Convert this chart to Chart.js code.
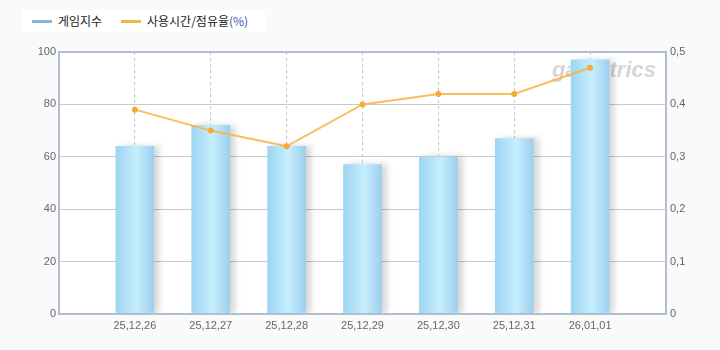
<!DOCTYPE html>
<html>
<head>
<meta charset="utf-8">
<script src="https://cdn.jsdelivr.net/npm/chart.js@4"></script>
<style>
  html, body { margin: 0; padding: 0; background: #fafafa; }
  #wrap { position: relative; width: 720px; height: 350px; }
  #legend {
    position: absolute; left: 22px; top: 10px; width: 243px; height: 22px;
    background: #ffffff; font: 12px "Noto Sans CJK KR", sans-serif; color: #222;
  }
  #legend span { position: absolute; top: 1px; line-height: 20px; }
  #legend i { position: absolute; top: 10px; width: 20px; height: 3px; }
</style>
</head>
<body>
<div id="wrap">
  <canvas id="chart" width="720" height="350"></canvas>
  <div id="legend">
    <i style="left:10px;background:#7fb7df;"></i><span style="left:36px;">게임지수</span>
    <i style="left:99px;background:#f7b245;"></i><span style="left:125px;">사용시간/점유율<span style="position:static;color:#3355aa;">(%)</span></span>
  </div>
</div>
<script>
// values
const dates = ['25,12,26', '25,12,27', '25,12,28', '25,12,29', '25,12,30', '25,12,31', '26,01,01'];
const gameIndex = [64, 72, 64, 57, 60, 67, 97];
const shareRate = [0.39, 0.35, 0.32, 0.40, 0.42, 0.42, 0.47];
const leftTicks = ['0', '20', '40', '60', '80', '100'];
const rightTicks = ['0', '0,1', '0,2', '0,3', '0,4', '0,5'];

// blank slots at both ends so the dates sit one step in from the edges
const axisLabels = [''].concat(dates, ['']);
const barData = [null].concat(gameIndex, [null]);
const lineData = [null].concat(shareRate, [null]);

const BAR_W = 38;

const plotPlugin = {
  id: 'plotDeco',
  beforeDraw(chart) {
    const { ctx, chartArea: a } = chart;
    ctx.save();
    ctx.fillStyle = '#ffffff';
    ctx.fillRect(a.left, a.top, a.right - a.left, a.bottom - a.top);
    ctx.restore();
  },
  beforeDatasetsDraw(chart) {
    const { ctx, chartArea: a } = chart;
    ctx.save();
    ctx.font = 'bold italic 22px "Liberation Sans", sans-serif';
    ctx.fillStyle = '#d6d6d6';
    ctx.textAlign = 'right';
    ctx.textBaseline = 'alphabetic';
    ctx.fillText('gametrics', a.right - 10, a.top + 25);
    ctx.restore();
  },
  beforeDatasetDraw(chart, args) {
    if (args.index === 0) {
      const ctx = chart.ctx;
      ctx.save();
      ctx.shadowColor = 'rgba(0,0,0,0.16)';
      ctx.shadowOffsetX = 5;
      ctx.shadowOffsetY = 0;
      ctx.shadowBlur = 6;
    }
  },
  afterDatasetDraw(chart, args) {
    if (args.index === 0) chart.ctx.restore();
  },
  afterDraw(chart) {
    const { ctx, chartArea: a } = chart;
    ctx.save();
    ctx.strokeStyle = '#aebfd2';
    ctx.lineWidth = 2;
    ctx.strokeRect(a.left, a.top, a.right - a.left, a.bottom - a.top);
    ctx.restore();
  }
};

function barFill(context) {
  const chart = context.chart;
  const xs = chart.scales && chart.scales.x;
  if (!xs || context.dataIndex === undefined) return '#a8dcf5';
  const cx = xs.getPixelForValue(context.dataIndex);
  if (!isFinite(cx)) return '#a8dcf5';
  const g = chart.ctx.createLinearGradient(cx - BAR_W / 2, 0, cx + BAR_W / 2, 0);
  g.addColorStop(0, '#9dd5f2');
  g.addColorStop(0.55, '#c6eefd');
  g.addColorStop(1, '#9ccfee');
  return g;
}

const tickFont = { family: '"Liberation Sans", sans-serif', size: 11 };

new Chart(document.getElementById('chart'), {
  data: {
    labels: axisLabels,
    datasets: [
      {
        type: 'bar',
        label: '게임지수',
        data: barData,
        yAxisID: 'y',
        backgroundColor: barFill,
        barThickness: BAR_W,
        order: 2
      },
      {
        type: 'line',
        label: '사용시간/점유율(%)',
        data: lineData,
        yAxisID: 'y1',
        borderColor: 'rgba(249,177,64,0.85)',
        borderWidth: 2,
        pointRadius: 3,
        pointBackgroundColor: '#f7ab36',
        pointBorderColor: '#f7ab36',
        pointBorderWidth: 0,
        tension: 0,
        order: 1
      }
    ]
  },
  options: {
    responsive: false,
    animation: false,
    layout: { padding: { top: 52, left: 0, right: 0, bottom: 0 } },
    plugins: { legend: { display: false }, tooltip: { enabled: false } },
    scales: {
      x: {
        type: 'category',
        offset: false,
        afterFit(s) { s.height = 36; },
        grid: {
          offset: false,
          color: (c) => (c.index === 0 || c.index === axisLabels.length - 1) ? 'rgba(0,0,0,0)' : '#c4c4c4',
          tickLength: 0,
          drawTicks: false
        },
        border: { display: false, dash: [3, 3] },
        ticks: { color: '#666', font: tickFont, autoSkip: false, maxRotation: 0, padding: 5 }
      },
      y: {
        position: 'left',
        min: 0, max: 100,
        afterFit(s) { s.width = 59; },
        grid: { color: '#c8c8c8', drawTicks: false },
        border: { display: false },
        ticks: {
          stepSize: 20, color: '#666', font: tickFont, padding: 3,
          callback: (v, i) => leftTicks[i]
        }
      },
      y1: {
        position: 'right',
        min: 0, max: 0.5,
        afterFit(s) { s.width = 54; },
        grid: { drawOnChartArea: false, drawTicks: false },
        border: { display: false },
        ticks: {
          stepSize: 0.1, color: '#666', font: tickFont, padding: 4,
          callback: (v, i) => rightTicks[i]
        }
      }
    }
  },
  plugins: [plotPlugin]
});
</script>
</body>
</html>
